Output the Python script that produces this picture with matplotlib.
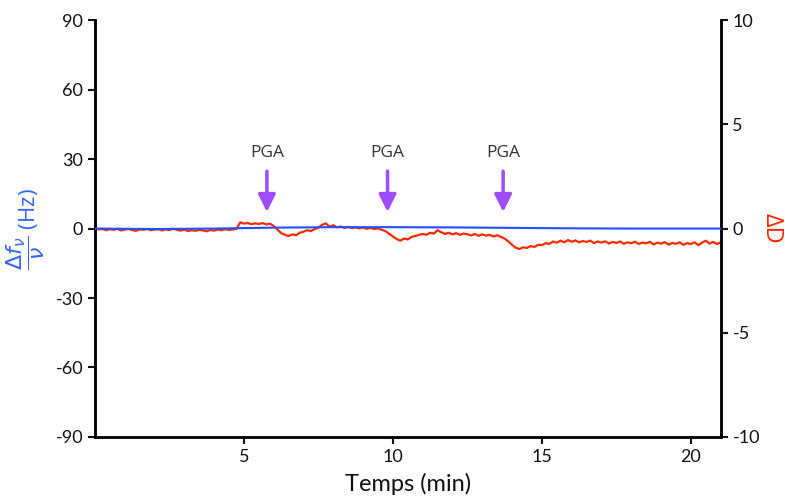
import matplotlib.pyplot as plt
import numpy as np

plt.rcParams['font.family'] = ['Lato', 'DejaVu Sans']
plt.rcParams['axes.unicode_minus'] = False

# dissipation shift (right axis, red), one sample every 0.125 min from 0 to 21 min
dt_D = 0.125
dD = [0.00, -0.04, -0.02, -0.08, -0.03, -0.06, -0.01, -0.09,
      -0.05, -0.02, -0.07, -0.11, -0.04, -0.06, -0.02, -0.08,
      -0.05, -0.03, -0.09, -0.04, -0.07, -0.01, -0.06, -0.10,
      -0.05, -0.12, -0.08, -0.11, -0.06, -0.09, -0.13, -0.07,
      -0.10, -0.05, -0.08, -0.03, -0.07, -0.04, -0.02, 0.30,
      0.24, 0.27, 0.21, 0.25, 0.22, 0.26, 0.20, 0.23,
      0.12, -0.05, -0.22, -0.30, -0.36, -0.28, -0.32, -0.20,
      -0.15, -0.08, -0.12, -0.02, 0.04, 0.18, 0.25, 0.08,
      0.16, 0.06, 0.10, 0.03, 0.08, 0.02, 0.06, 0.01,
      0.05, -0.01, 0.03, -0.02, 0.01, -0.06, -0.12, -0.25,
      -0.38, -0.50, -0.58, -0.48, -0.52, -0.40, -0.36, -0.30,
      -0.26, -0.30, -0.20, -0.24, -0.08, -0.18, -0.26, -0.20,
      -0.28, -0.22, -0.30, -0.24, -0.27, -0.33, -0.26, -0.35,
      -0.28, -0.34, -0.30, -0.38, -0.32, -0.40, -0.48, -0.62,
      -0.78, -0.92, -0.98, -0.90, -0.93, -0.84, -0.88, -0.78,
      -0.80, -0.70, -0.74, -0.62, -0.68, -0.58, -0.66, -0.55,
      -0.63, -0.57, -0.66, -0.60, -0.64, -0.58, -0.70, -0.62,
      -0.67, -0.61, -0.72, -0.64, -0.69, -0.62, -0.73, -0.66,
      -0.70, -0.63, -0.74, -0.67, -0.71, -0.64, -0.76, -0.68,
      -0.72, -0.65, -0.77, -0.69, -0.73, -0.66, -0.78, -0.70,
      -0.74, -0.66, -0.80, -0.68, -0.58, -0.72, -0.64, -0.74,
      -0.66]
t_D = np.arange(len(dD)) * dt_D

# frequency shift (left axis, blue)
t_f = [0, 2, 4, 5, 6, 8, 10, 12, 14, 16, 18, 21]
df = [0.0, -0.2, 0.0, 0.2, 0.4, 0.6, 0.6, 0.5, 0.3, 0.1, 0.0, 0.0]

# PGA injections (min)
t_pga = [5.77, 9.82, 13.7]

fig = plt.figure(figsize=(7.85, 5.04), dpi=100)
ax = fig.add_axes([0.121, 0.133, 0.797, 0.827])
ax2 = ax.twinx()

ax.plot(t_f, df, color='#1f4fff', lw=1.5, zorder=3)
ax2.plot(t_D, dD, color='#ff2a00', lw=1.6)
ax.set_zorder(ax2.get_zorder() + 1)
ax.patch.set_visible(False)

ax.set_xlim(0, 21)
ax.set_ylim(-90, 90)
ax2.set_ylim(-10, 10)
ax.set_xticks([5, 10, 15, 20])
ax.set_yticks([-90, -60, -30, 0, 30, 60, 90])
ax2.set_yticks([-10, -5, 0, 5, 10])

for a in (ax, ax2):
    a.spines['top'].set_visible(False)
    for s in ('left', 'right', 'bottom'):
        a.spines[s].set_linewidth(1.8)
    a.tick_params(width=1.5, length=5, labelsize=13, colors='#111111')

for t in t_pga:
    ax.annotate('', xy=(t, 6), xytext=(t, 26),
                arrowprops=dict(arrowstyle='-|>', color='#9b4dff', lw=2.5, mutation_scale=26))
    ax.text(t, 32.5, 'PGA', ha='center', va='center', fontsize=12.5, color='#333333',
            family=['Open Sans', 'DejaVu Sans'])

ax.set_xlabel('Temps (min)', fontsize=17, color='#111111', labelpad=6)
ax.set_ylabel(r'$\dfrac{\Delta f_\nu}{\nu}$ (Hz)', fontsize=16, color='#3366ff', labelpad=6,
              family=['Open Sans', 'DejaVu Sans'])
fig.text(0.983, 0.546, 'ΔD', fontsize=17, color='#ff2a00', rotation=270,
         ha='center', va='center', family=['Open Sans', 'DejaVu Sans'])

fig.savefig('out.png', dpi=100)
